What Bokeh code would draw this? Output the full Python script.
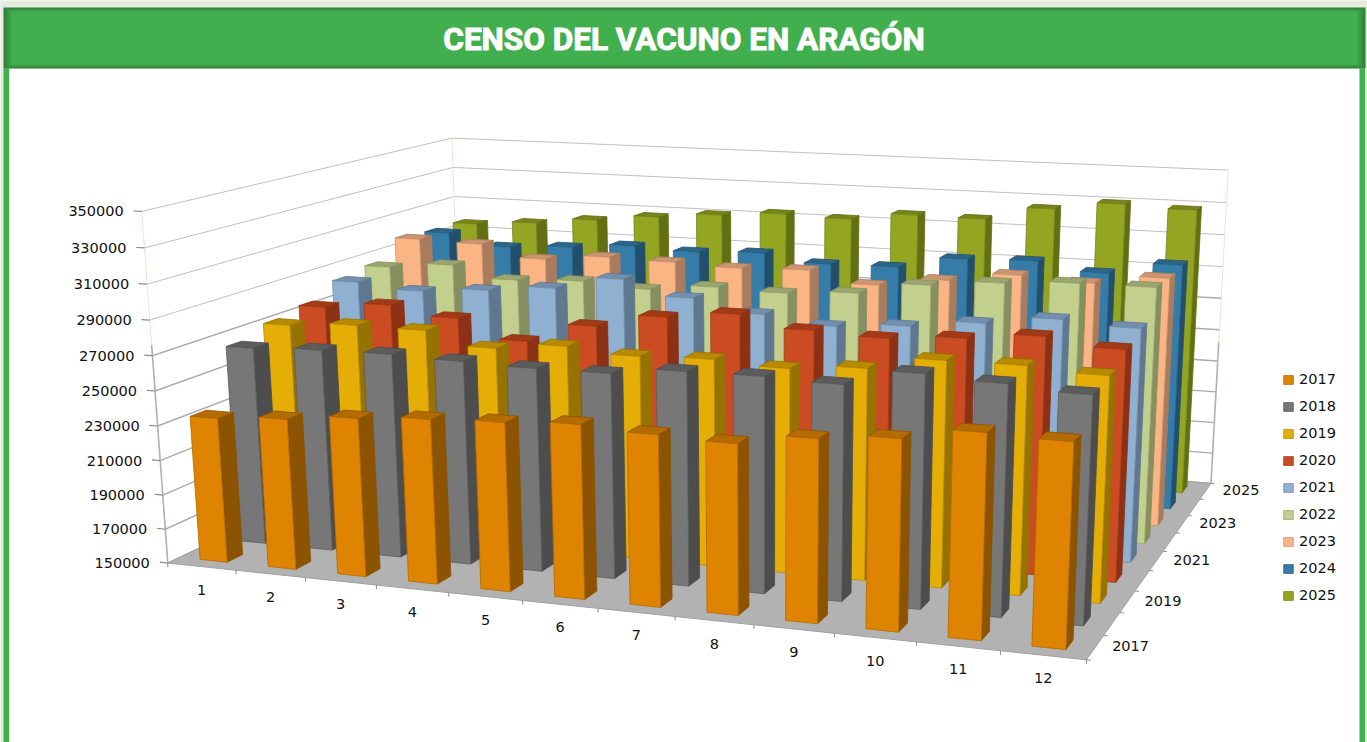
import numpy as np
from bokeh.plotting import figure
from bokeh.models import Range1d, Legend, LegendItem
from bokeh.core.properties import value
from bokeh.embed import file_html
from bokeh.resources import INLINE

years = ["2017","2018","2019","2020","2021","2022","2023","2024","2025"]
months = [str(i) for i in range(1,13)]
z_ticks = [150000,170000,190000,210000,230000,250000,270000,290000,310000,330000,350000]
v2017 = [233800,236600,240400,243200,244800,247100,245000,243600,249700,253100,259700,258500]
v2018 = [265900,267600,268200,267200,266200,266400,270500,270900,269600,278500,276300,273700]
v2019 = [271800,274500,274300,266700,270700,267900,269100,267000,270000,277400,277600,275300]
v2020 = [275300,279200,274000,263000,274700,282700,287100,280600,278900,281700,285600,281300]
v2021 = [283800,280700,283800,287600,295500,286700,279800,275400,278200,282700,287600,285300]
v2022 = [286600,290300,283300,285100,282600,286400,285300,287800,295100,298800,301200,301400]
v2023 = [298300,297400,290000,293600,292800,291400,292600,285800,291300,296800,294500,299900]
v2024 = [296300,289300,291500,294500,292900,294500,289900,290400,297700,298800,293900,301100]
v2025 = [296500,299300,303400,307500,310900,313700,312500,317200,316700,325100,330200,328500]
series = [v2017,v2018,v2019,v2020,v2021,v2022,v2023,v2024,v2025]
front=["#DF8400","#777777","#E5AE06","#CB4B22","#8FB0D1","#C3CF8D","#FBB484","#357CA8","#94A522"]
side =["#8C5300","#4D4D4D","#967200","#8C3113","#5F778F","#858F60","#A87C5C","#224F6C","#636F13"]
top  =["#B46B00","#5C5C5C","#B88A00","#A33A16","#7290AD","#9BA570","#CC9470","#2B6589","#75851A"]

# camera calibration of the 3D box (month, series, value step) to the page
CAM=[((0,0,0),(167,562)),((12,0,0),(1084,660)),((12,9,0),(1210,482)),((0,0,10),(141,211)),((0,9,10),(451,138)),((12,9,10),(1228,170)),
((0,0,5),(154,390)),((0,0,6),(153,354)),((1,0,0),(236,570.5)),((2,0,0),(305,578)),((3,0,0),(376,585)),((4,0,0),(448,592)),
((12,1,0),(1104,634)),((12,3,0),(1135,591)),((12,5,0),(1163,551)),((12,7,0),(1188,515))]
A=[]
for (X,Y,Z),(u,v) in CAM:
    A.append([X,Y,Z,1,0,0,0,0,-u*X,-u*Y,-u*Z,-u])
    A.append([0,0,0,0,X,Y,Z,1,-v*X,-v*Y,-v*Z,-v])
P=np.linalg.svd(np.array(A,float))[2][-1].reshape(3,4)
def proj(X,Y,Z):
    q=P@np.array([X,Y,Z,1.0])
    return float(q[0]/q[2]),float(q[1]/q[2])
def zv(v):
    return (v-150000)/20000

p=figure(width=1367,height=742,x_range=Range1d(0,1367),y_range=Range1d(742,0),output_backend="svg",toolbar_location=None,min_border=0,margin=0)
p.xaxis.visible=False;p.yaxis.visible=False;p.grid.visible=False;p.outline_line_color=None
p.background_fill_color="#E3ECDD"
p.quad(left=[8.7],right=[1359],top=[68],bottom=[742],fill_color="white",line_color=None)
p.quad(left=[3,1359],right=[8.7,1364.5],top=[68,68],bottom=[742,742],fill_color="#42AF4E",line_color=None)
c0=np.array([0x30,0x80,0x3A]);c1=np.array([0x42,0xAF,0x4E])
for i in range(6):
    t=i/5;c=(c0+(c1-c0)*t).astype(int)
    p.quad(left=[3+i*1.6],right=[1365-i*1.6],top=[7+i*.8],bottom=[68-i*.8],fill_color="#%02X%02X%02X"%tuple(int(k) for k in c),line_color=None)
p.text(x=[683.5],y=[38.5],text=["CENSO DEL VACUNO EN ARAGÓN"],text_font=value("Roboto"),text_font_style="bold",text_font_size="31.5px",text_color="white",text_align="center",text_baseline="middle",outline_color="white")

def seg(pts):
    return [proj(*q)[0] for q in pts],[proj(*q)[1] for q in pts]
def lines(segs,color,w):
    xs=[];ys=[]
    for s in segs:
        a,b=seg(s);xs.append(a);ys.append(b)
    p.multi_line(xs,ys,line_color=color,line_width=w)
lo=[k for k in range(11) if k<=6];hi=[k for k in range(11) if k>6]
lines([[(0,0,k),(0,9,k),(12,9,k)] for k in hi],"#C4BEBE",1)
lines([[(0,0,k),(0,9,k),(12,9,k)] for k in lo],"#ABABAB",1.4)
lines([[(0,0,6.3),(0,0,10)],[(0,9,0),(0,9,10)],[(12,9,4.6),(12,9,10)]],"#FBDCD8",1)
lines([[(0,0,0),(0,0,6.3)],[(12,9,0),(12,9,4.6)]],"#B5AEAE",1.6)
a,b=seg([(0,0,0),(12,0,0),(12,9,0),(0,9,0)])
p.patch(a,b,fill_color="#B2B2B2",line_color="#A0A0A0",line_width=1)
lines([[(-.12,0,k),(0,0,k)] for k in range(11)],"#8C8C8C",1.2)
tick_pts=[proj(m,0,0) for m in range(13)]
p.segment(x0=[q[0] for q in tick_pts],y0=[q[1] for q in tick_pts],x1=[q[0] for q in tick_pts],y1=[q[1]+4 for q in tick_pts],line_color="#8C8C8C",line_width=1)
lines([[(12,r,0),(12.05,r,0)] for r in range(10)],"#8C8C8C",1)

items={}
for r in range(8,-1,-1):
    xs=[];ys=[];cols=[];lc=[]
    for m,vv in enumerate(series[r]):
        z=zv(vv);x0,x1,y0,y1=m+.3,m+.7,r+.3,r+.7
        for f,c,l in [([(x1,y0,0),(x1,y1,0),(x1,y1,z),(x1,y0,z)],side[r],side[r]),
                      ([(x0,y0,z),(x1,y0,z),(x1,y1,z),(x0,y1,z)],top[r],side[r]),
                      ([(x0,y0,0),(x1,y0,0),(x1,y0,z),(x0,y0,z)],front[r],top[r])]:
            a,b=seg(f);xs.append(a);ys.append(b);cols.append(c);lc.append(l)
    rr=p.patches(xs,ys,fill_color=cols,line_color=lc,line_width=.8)
    items[r]=LegendItem(label=years[r],renderers=[rr],index=2)
p.add_layout(Legend(items=[items[r] for r in range(9)],location=(1282,137),spacing=7,padding=0,margin=0,glyph_width=12,glyph_height=11,label_height=20,label_standoff=5,background_fill_alpha=0,border_line_color=None,label_text_font="DejaVu Sans",label_text_font_size="14.5px",label_text_color="#111111"))

lab=dict(text_font=value("DejaVu Sans"),text_font_size="14.5px",text_color="#111111",text_baseline="middle")
pts=[proj(0,0,k) for k in range(11)]
p.text(x=[q[0] for q in pts],y=[q[1] for q in pts],text=[str(t) for t in z_ticks],text_align="right",x_offset=-18,**lab)
pts=[proj(m+.5,0,0) for m in range(12)]
p.text(x=[q[0] for q in pts],y=[q[1] for q in pts],text=months,text_align="center",y_offset=23,**lab)
idx=[0,2,4,6,8]
pts=[proj(12,r+.5,0) for r in idx]
p.text(x=[q[0] for q in pts],y=[q[1] for q in pts],text=[years[r] for r in idx],text_align="left",x_offset=17,y_offset=-1,**lab)

open("out.html","w").write(file_html(p,INLINE))
